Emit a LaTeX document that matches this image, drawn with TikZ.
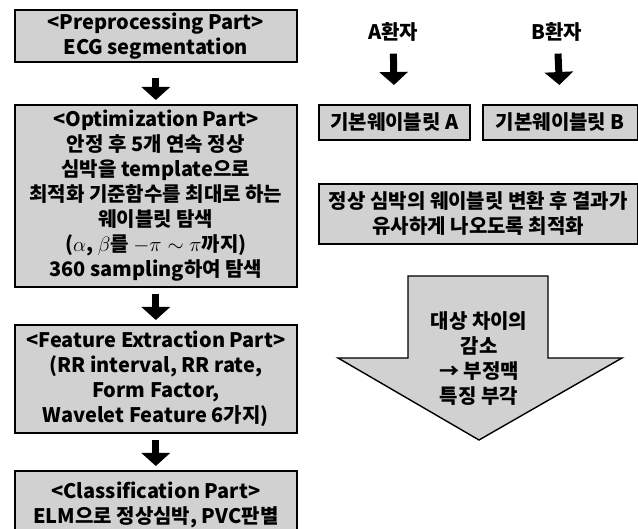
\documentclass[tikz,border=0pt]{standalone}
\usepackage{fontspec}
\setmainfont{Noto Sans CJK KR}
\usetikzlibrary{arrows.meta}
\begin{document}
\begin{tikzpicture}[x=1pt,y=-1pt,
  box/.style={draw=black, line width=1.6pt, fill=black!18, align=center,
    font=\fontsize{20}{25}\selectfont\bfseries, inner sep=0pt, anchor=north west},
  plain/.style={align=center, font=\fontsize{20}{25}\selectfont\bfseries, inner sep=0pt},
  fat/.style={line width=7pt, -{Triangle[width=28pt,length=13pt]}}
]
\useasboundingbox (0,0) rectangle (638,529);
% left column
\node[box, minimum width=282pt, minimum height=52pt] (b1) at (14,9)
  {<Preprocessing Part>\\ECG segmentation};
\node[box, minimum width=282pt, minimum height=182pt] (b2) at (14,104)
  {<Optimization Part>\\안정 후 5개 연속 정상\\심박을 template으로\\최적화 기준함수를 최대로 하는\\웨이블릿 탐색\\($\alpha$, $\beta$를 $-\pi\sim\pi$까지)\\360 sampling하여 탐색};
\node[box, minimum width=282pt, minimum height=108pt] (b3) at (14,324)
  {<Feature Extraction Part>\\(RR interval, RR rate,\\Form Factor,\\Wavelet Feature 6가지)};
\node[box, minimum width=282pt, minimum height=70pt, anchor=north west] (b4) at (14,470)
  {\raisebox{10pt}{\begin{tabular}{@{}c@{}}<Classification Part>\\ELM으로 정상심박, PVC판별\end{tabular}}};
\draw[fat, shorten <=15pt, shorten >=4pt] (b1.south) -- (b2.north);
\draw[fat, shorten <=6pt, shorten >=4pt] (b2.south) -- (b3.north);
\draw[fat, shorten <=6pt, shorten >=4pt] (b3.south) -- (b4.north);
% right column
\node[plain] (pa) at (393,32) {A환자};
\node[plain] (pb) at (557,32) {B환자};
\node[box, minimum width=151pt, minimum height=35pt] (wa) at (318,104) {기본웨이블릿 A};
\node[box, minimum width=155pt, minimum height=35pt] (wb) at (482,104) {기본웨이블릿 B};
\draw[fat, shorten <=12pt, shorten >=19pt] (pa) -- (wa.north);
\draw[fat, shorten <=12pt, shorten >=19pt] (pb) -- (wb.north);
\node[box, minimum width=319pt, minimum height=60pt] (opt) at (318,183)
  {정상 심박의 웨이블릿 변환 후 결과가\\유사하게 나오도록 최적화};
% big arrow
\draw[line width=1.4pt, fill=black!18] (408,276) -- (548,276) -- (548,358) -- (622,358)
  -- (479,440) -- (338,358) -- (408,358) -- cycle;
\node[plain] (bt) at (479,359) {대상 차이의\\감소\\→ 부정맥\\특징 부각};
\end{tikzpicture}
\end{document}
